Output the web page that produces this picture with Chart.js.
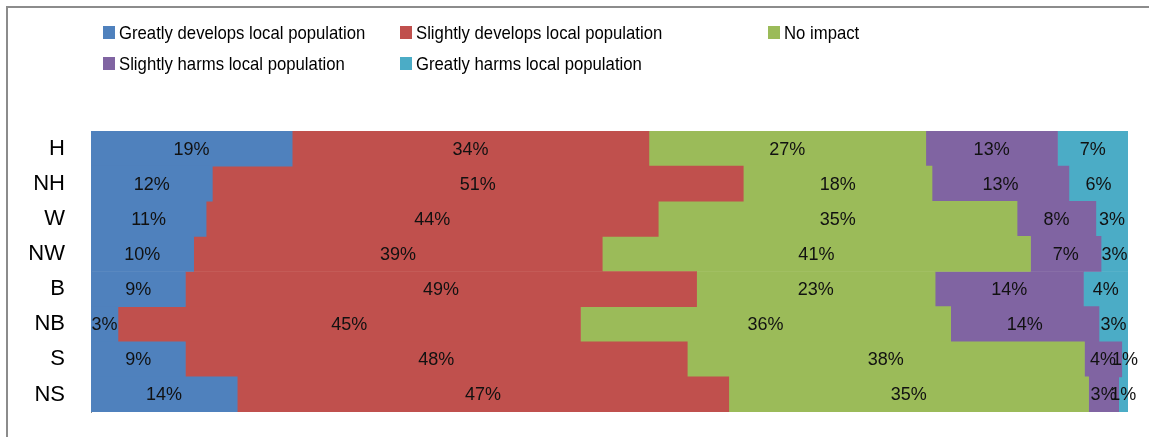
<!DOCTYPE html>
<html>
<head>
<meta charset="utf-8">
<script src="https://cdn.jsdelivr.net/npm/chart.js@4"></script>
<style>
    html, body { margin: 0; padding: 0; background: #fff; overflow: hidden; }
    .wrap { position: relative; width: 1149px; height: 437px; }
    .frame { position: absolute; left: 6px; top: 6px; width: 1300px; height: 600px; border: 2px solid #8c8c8c; box-sizing: border-box; }
    #chart { position: absolute; left: 0; top: 0; }
    .legend { position: absolute; left: 103px; top: 17px; display: grid; grid-template-columns: 297px 368px auto; grid-auto-rows: 31px;
        font-family: 'Liberation Sans', Arial, sans-serif; font-size: 19px; color: #000; }
    .legend-item { display: flex; align-items: center; white-space: nowrap; }
    .legend-box { width: 12px; height: 13px; margin-right: 4px; flex: none; }
    .legend-text { display: inline-block; transform: scaleX(0.88); transform-origin: left center; }
</style>
</head>
<body>
<div class="wrap">
    <div class="frame"></div>
    <canvas id="chart" width="1149" height="437"></canvas>
    <div class="legend" id="legend"></div>
</div>
<script>
// Categories (top to bottom)
const categories = ['H', 'NH', 'W', 'NW', 'B', 'NB', 'S', 'NS'];

// Series values, percent of each row
const greatlyDevelops = [19.4, 11.7, 11.1, 9.9, 9.1, 2.6, 9.1, 14.1];
const slightlyDevelops = [34.4, 51.2, 43.6, 39.4, 49.3, 44.6, 48.4, 47.4];
const noImpact = [26.7, 18.2, 34.6, 41.3, 23.0, 35.7, 38.3, 34.7];
const slightlyHarms = [12.7, 13.2, 7.6, 6.8, 14.3, 14.3, 3.6, 2.9];
const greatlyHarms = [6.8, 5.7, 3.1, 2.6, 4.3, 2.8, 0.6, 0.9];

const seriesNames = ['Greatly develops local population', 'Slightly develops local population', 'No impact',
    'Slightly harms local population', 'Greatly harms local population'];
const seriesColors = ['#4F81BD', '#C0504D', '#9BBB59', '#8064A2', '#4BACC6'];
const seriesData = [greatlyDevelops, slightlyDevelops, noImpact, slightlyHarms, greatlyHarms];

// Draws the percentage in the middle of each segment
const valueLabels = {
    id: 'valueLabels',
    afterDatasetsDraw(chart) {
        const ctx = chart.ctx;
        ctx.save();
        ctx.font = '18px "Liberation Sans", Arial, sans-serif';
        ctx.fillStyle = '#111';
        ctx.textAlign = 'center';
        ctx.textBaseline = 'middle';
        chart.data.datasets.forEach(function(ds, i) {
            chart.getDatasetMeta(i).data.forEach(function(bar, j) {
                const p = bar.getCenterPoint();
                ctx.fillText(Math.round(ds.data[j]) + '%', p.x, p.y + 1);
            });
        });
        ctx.restore();
    }
};

const chart = new Chart(document.getElementById('chart'), {
    type: 'bar',
    data: {
        labels: categories,
        datasets: seriesData.map(function(values, i) {
            return {
                label: seriesNames[i],
                data: values,
                backgroundColor: seriesColors[i],
                borderWidth: 0,
                categoryPercentage: 1.0,
                barPercentage: 1.0
            };
        })
    },
    options: {
        indexAxis: 'y',
        responsive: false,
        animation: false,
        layout: {
            padding: { top: 131, bottom: 25, right: 21, left: 0 }
        },
        plugins: {
            legend: { display: false },
            tooltip: { enabled: false }
        },
        scales: {
            x: {
                stacked: true,
                display: false,
                min: 0,
                max: 100
            },
            y: {
                stacked: true,
                afterFit: function(scale) {
                    scale.width = 91;
                    // tick padding should not push the plot area up
                    scale.paddingTop = 0;
                    scale.paddingBottom = 0;
                },
                grid: { display: false, drawTicks: false },
                border: { display: true, color: '#8c8c8c', width: 1 },
                ticks: {
                    color: '#000',
                    padding: 26,
                    font: { family: '"Liberation Sans", Arial, sans-serif', size: 22 }
                }
            }
        }
    },
    plugins: [valueLabels]
});

// Legend laid out in a grid like the original
const legendEl = document.getElementById('legend');
chart.data.datasets.forEach(function(ds) {
    const item = document.createElement('div');
    item.className = 'legend-item';
    item.innerHTML = '<span class="legend-box" style="background:' + ds.backgroundColor + '"></span>' +
        '<span class="legend-text">' + ds.label + '</span>';
    legendEl.appendChild(item);
});
</script>
</body>
</html>
